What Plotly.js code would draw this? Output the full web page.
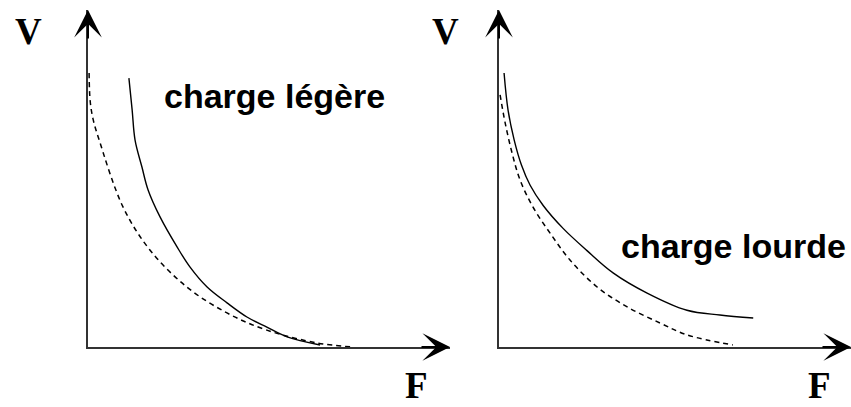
<!DOCTYPE html>
<html>
<head>
<meta charset="utf-8">
<script src="https://cdn.plot.ly/plotly-3.0.1.min.js"></script>
<style>html,body{margin:0;padding:0;background:#fff;}#chart{width:851px;height:407px;}</style>
</head>
<body>
<div id="chart"></div>
<script>
// Left panel: charge légère
const lightSolidF = [1.13, 1.22, 1.30, 1.49, 1.66, 1.99, 2.46, 2.82, 3.29, 3.84, 4.39, 4.94, 5.50, 6.41];
const lightSolidV = [7.98, 7.03, 6.14, 5.34, 4.66, 3.86, 2.97, 2.37, 1.78, 1.31, 0.89, 0.59, 0.30, 0.06];
const lightDashF = [0.03, 0.06, 0.14, 0.30, 0.97, 1.71, 2.73, 3.84, 4.94, 6.33, 7.32];
const lightDashV = [8.13, 7.30, 6.76, 6.17, 4.15, 2.88, 1.78, 1.01, 0.50, 0.12, 0.0];
// Right panel: charge lourde
const heavySolidF = [0.14, 0.25, 0.42, 0.62, 0.86, 1.22, 1.77, 2.43, 3.15, 4.09, 5.19, 6.10, 7.02];
const heavySolidV = [8.13, 7.03, 6.14, 5.40, 4.80, 4.20, 3.52, 2.86, 2.20, 1.60, 1.09, 0.95, 0.86];
const heavyDashF = [0.03, 0.17, 0.36, 0.58, 0.94, 1.41, 1.96, 2.71, 3.54, 4.45, 5.19, 6.46];
const heavyDashV = [7.48, 6.65, 5.76, 4.96, 4.15, 3.38, 2.58, 1.78, 1.19, 0.71, 0.36, 0.06];

const labels = {light: 'charge légère', heavy: 'charge lourde', v: 'V', f: 'F'};

const solid = {color: '#000', width: 1.4, shape: 'spline', smoothing: 1};
const dashed = {color: '#000', width: 1.5, dash: '5px,4px', shape: 'spline', smoothing: 1};

const traces = [
  {x: lightSolidF, y: lightSolidV, xaxis: 'x', yaxis: 'y', mode: 'lines', line: solid},
  {x: lightDashF, y: lightDashV, xaxis: 'x', yaxis: 'y', mode: 'lines', line: dashed},
  {x: heavySolidF, y: heavySolidV, xaxis: 'x2', yaxis: 'y2', mode: 'lines', line: solid},
  {x: heavyDashF, y: heavyDashV, xaxis: 'x2', yaxis: 'y2', mode: 'lines', line: dashed}
];

const axBase = {showgrid: false, zeroline: false, showticklabels: false, ticks: '',
  showline: true, linecolor: '#333', linewidth: 2, fixedrange: true};

const serif = {family: 'Liberation Serif, Times New Roman, serif', size: 37, color: '#000', weight: 'bold'};
const sans = {family: 'Liberation Sans, Arial, sans-serif', size: 34, color: '#000', weight: 'bold'};

function arrow(xref, yref, x, y, ax, ay) {
  return {xref: xref, yref: yref, x: x, y: y, ax: ax, ay: ay, text: '', showarrow: true,
    arrowhead: 3, arrowsize: 2.3, arrowwidth: 2, arrowcolor: '#000'};
}
function label(text, x, y, font, yanchor) {
  return {xref: 'paper', yref: 'paper', x: x, y: y, text: text, showarrow: false,
    xanchor: 'center', yanchor: yanchor || 'middle', borderpad: 0, font: font};
}

const layout = {
  width: 851, height: 407,
  margin: {l: 0, r: 0, t: 0, b: 0},
  paper_bgcolor: '#fff', plot_bgcolor: '#fff',
  showlegend: false,
  xaxis: Object.assign({}, axBase, {domain: [88/851, 450/851], range: [0, 10], anchor: 'y'}),
  yaxis: Object.assign({}, axBase, {domain: [60/407, 397/407], range: [0, 10], anchor: 'x'}),
  xaxis2: Object.assign({}, axBase, {domain: [499/851, 1], range: [0, 9.72], anchor: 'y2'}),
  yaxis2: Object.assign({}, axBase, {domain: [60/407, 397/407], range: [0, 10], anchor: 'x2'}),
  annotations: [
    arrow('x', 'y', 0, 10, 0, 30),
    arrow('x', 'y', 10, 0, -30, 0),
    arrow('x2', 'y2', 0, 10, 0, 30),
    arrow('x2', 'y2', 9.72, 0, -30, 0),
    label(labels.v, 28/851, 1 - 32/407, serif),
    label(labels.v, 445/851, 1 - 32/407, serif),
    label(labels.f, 416/851, 0, serif, 'bottom'),
    label(labels.f, 819/851, 0, serif, 'bottom'),
    label(labels.light, 274/851, 1 - 96/407, sans),
    label(labels.heavy, 733/851, 1 - 246/407, sans)
  ]
};

Plotly.newPlot('chart', traces, layout, {displayModeBar: false, staticPlot: true});
</script>
</body>
</html>
